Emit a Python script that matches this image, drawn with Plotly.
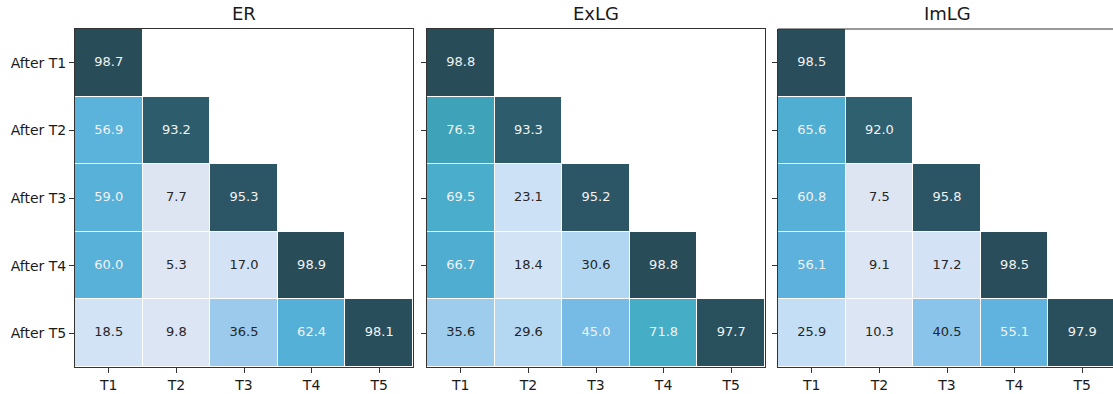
import plotly.graph_objects as go

# Accuracy on each task (columns) measured after training through each stage (rows)
tasks = ["T1", "T2", "T3", "T4", "T5"]
stages = ["After T1", "After T2", "After T3", "After T4", "After T5"]
methods = ["ER", "ExLG", "ImLG"]

er_acc = [
    [98.7, None, None, None, None],
    [56.9, 93.2, None, None, None],
    [59.0, 7.7, 95.3, None, None],
    [60.0, 5.3, 17.0, 98.9, None],
    [18.5, 9.8, 36.5, 62.4, 98.1],
]
exlg_acc = [
    [98.8, None, None, None, None],
    [76.3, 93.3, None, None, None],
    [69.5, 23.1, 95.2, None, None],
    [66.7, 18.4, 30.6, 98.8, None],
    [35.6, 29.6, 45.0, 71.8, 97.7],
]
imlg_acc = [
    [98.5, None, None, None, None],
    [65.6, 92.0, None, None, None],
    [60.8, 7.5, 95.8, None, None],
    [56.1, 9.1, 17.2, 98.5, None],
    [25.9, 10.3, 40.5, 55.1, 97.9],
]
panels = [er_acc, exlg_acc, imlg_acc]

colorscale = [
    [0.00, "#e0e6f2"],
    [0.10, "#dce5f3"],
    [0.18, "#d2e3f5"],
    [0.24, "#cbe1f6"],
    [0.30, "#b2d7f2"],
    [0.36, "#9dcbed"],
    [0.41, "#88c3ea"],
    [0.45, "#76bae6"],
    [0.55, "#5fb3de"],
    [0.58, "#58b1da"],
    [0.62, "#55b0d7"],
    [0.67, "#4eadd0"],
    [0.72, "#46adc6"],
    [0.76, "#3ea3ba"],
    [0.84, "#36828f"],
    [0.92, "#2e606f"],
    [0.95, "#2c5767"],
    [0.99, "#284c58"],
    [1.00, "#274a56"],
]

W, H = 1113, 394
top_px, bot_px = 29, 367
x_px = [(75, 413), (427, 765), (778, 1116)]
y_dom = [(H - bot_px) / H, (H - top_px) / H]
axis_col = "#333333"
font_family = "DejaVu Sans"

fig = go.Figure()
shapes = []
annotations = []
for i, (name, z) in enumerate(zip(methods, panels)):
    k = "" if i == 0 else str(i + 1)
    xa, ya = "x" + k, "y" + k
    left, right = x_px[i]
    cell_w = (right - left) / 5
    vis_right = min(right, W)
    x_hi = 4.5 - (right - vis_right) / cell_w

    fig.add_trace(go.Heatmap(
        z=z, x=list(range(5)), y=list(range(5)),
        colorscale=colorscale, zmin=0, zmax=100, showscale=False,
        xgap=1, ygap=1, hoverongaps=False,
        xaxis=xa, yaxis=ya,
    ))

    # Cell labels
    tx, ty, tt, tc = [], [], [], []
    for r, row in enumerate(z):
        for c, v in enumerate(row):
            if v is None:
                continue
            tx.append(c)
            ty.append(r)
            tt.append(f"{v:.1f}")
            tc.append("#f2f2f2" if v >= 42 else "#262626")
    fig.add_trace(go.Scatter(
        x=tx, y=ty, text=tt, mode="text",
        textfont=dict(family=font_family, size=13, color=tc),
        hoverinfo="skip", showlegend=False, xaxis=xa, yaxis=ya,
    ))

    full = i < 2
    fig.layout["xaxis" + k] = dict(
        domain=[left / W, vis_right / W], range=[-0.5, x_hi],
        tickvals=list(range(5)), ticktext=tasks,
        ticks="outside", ticklen=5, tickcolor=axis_col,
        showline=True, linecolor=axis_col, linewidth=1, mirror=full,
        showgrid=False, zeroline=False, anchor=ya,
        tickfont=dict(family=font_family, size=14, color="#1a1a1a"),
    )
    fig.layout["yaxis" + k] = dict(
        domain=y_dom, range=[4.5, -0.5],
        tickvals=list(range(5)), ticktext=stages if i == 0 else [""] * 5,
        ticks="outside", ticklen=5, tickcolor=axis_col,
        showline=True, linecolor=axis_col, linewidth=1, mirror=full,
        showgrid=False, zeroline=False, anchor=xa,
        tickfont=dict(family=font_family, size=14, color="#1a1a1a"),
    )
    if not full:
        shapes.append(dict(
            type="line", xref="paper", yref="paper",
            x0=left / W, x1=1, y0=y_dom[1], y1=y_dom[1],
            line=dict(color=axis_col, width=1),
        ))
    annotations.append(dict(
        text=name, xref="paper", yref="paper",
        x=(left + right) / 2 / W, y=y_dom[1] + 3 / H,
        xanchor="center", yanchor="bottom", showarrow=False,
        font=dict(family=font_family, size=18, color="#1a1a1a"),
    ))

fig.update_layout(
    width=W, height=H,
    margin=dict(l=0, r=0, t=0, b=0),
    paper_bgcolor="white", plot_bgcolor="white",
    showlegend=False, shapes=shapes, annotations=annotations,
)

fig.write_html("out.html")
